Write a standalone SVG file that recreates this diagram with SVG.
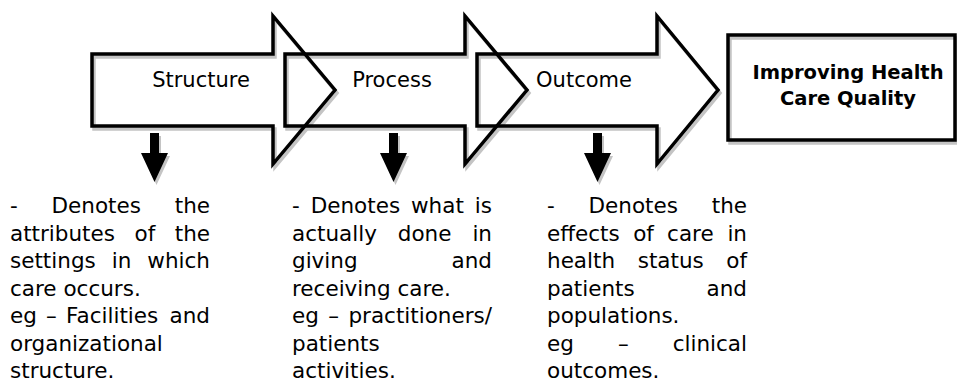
<svg xmlns="http://www.w3.org/2000/svg" width="957" height="382" viewBox="0 0 957 382">
<defs>
<style>
.sh{fill:none;stroke:#c4c4c4;stroke-width:3.5;stroke-linejoin:miter}
.ol{fill:none;stroke:#000;stroke-width:3.5;stroke-linejoin:miter}
.dsh{fill:#c4c4c4}
.da{fill:#000}
.lbl{font-family:"DejaVu Sans",Verdana,sans-serif;font-size:21px;fill:#000;text-anchor:middle}
.bt{font-family:"DejaVu Sans",Verdana,sans-serif;font-size:19.5px;font-weight:bold;fill:#000;text-anchor:middle}
.tx{font-family:"DejaVu Sans",Verdana,sans-serif;font-size:21.5px;fill:#000}
.e{text-anchor:end}
</style>
</defs>
<rect width="957" height="382" fill="#fff"/>
<g id="shadows" transform="translate(2,3)">
<path class="sh" d="M92,54 H273 V16 L335,90 L273,164 V126 H92 Z"/>
<path class="sh" d="M285,54 H465 V16 L527,90 L465,164 V126 H285 Z"/>
<path class="sh" d="M477,54 H657 V16 L718,90 L657,164 V126 H477 Z"/>
<rect class="sh" x="728" y="35" width="227" height="105"/>
<path class="dsh" d="M150,133 H159 V153 H168 L154.5,182 L141,153 H150 Z"/>
<path class="dsh" d="M389,133 H398 V153 H407 L393.5,182 L380,153 H389 Z"/>
<path class="dsh" d="M593,133 H602 V153 H611 L597.5,182 L584,153 H593 Z"/>
</g>
<g id="structure">
<path class="ol" d="M92,54 H273 V16 L335,90 L273,164 V126 H92 Z"/>
<text class="lbl" x="201" y="87">Structure</text>
</g>
<g id="process">
<path class="ol" d="M285,54 H465 V16 L527,90 L465,164 V126 H285 Z"/>
<text class="lbl" x="392" y="87">Process</text>
</g>
<g id="outcome">
<path class="ol" d="M477,54 H657 V16 L718,90 L657,164 V126 H477 Z"/>
<text class="lbl" x="584" y="87">Outcome</text>
</g>
<g id="quality">
<rect class="ol" x="728" y="35" width="227" height="105"/>
<text class="bt" x="848" y="79">Improving Health</text>
<text class="bt" x="848" y="105">Care Quality</text>
</g>
<g id="connectors">
<path class="da" d="M150,133 H159 V153 H168 L154.5,182 L141,153 H150 Z"/>
<path class="da" d="M389,133 H398 V153 H407 L393.5,182 L380,153 H389 Z"/>
<path class="da" d="M593,133 H602 V153 H611 L597.5,182 L584,153 H593 Z"/>
</g>
<g id="structure-desc" class="tx">
<text y="213"><tspan x="10">-</tspan><tspan x="51.5">Denotes</tspan></text>
<text class="tx e" x="210" y="213">the</text>
<text y="240.5"><tspan x="10">attributes</tspan><tspan x="134.5">of</tspan></text>
<text class="tx e" x="210" y="240.5">the</text>
<text y="268"><tspan x="10">settings</tspan><tspan x="111.7">in</tspan></text>
<text class="tx e" x="210" y="268">which</text>
<text x="10" y="295.5">care occurs.</text>
<text y="323"><tspan x="10">eg</tspan><tspan x="46.1">–</tspan><tspan x="66.1">Facilities</tspan></text>
<text class="tx e" x="210" y="323">and</text>
<text x="10" y="350.5">organizational</text>
<text x="10" y="378">structure.</text>
</g>
<g id="process-desc" class="tx">
<text y="213"><tspan x="292">-</tspan><tspan x="310.7">Denotes</tspan><tspan x="411">what</tspan></text>
<text class="tx e" x="492" y="213">is</text>
<text y="240.5"><tspan x="292">actually</tspan><tspan x="397.8">done</tspan></text>
<text class="tx e" x="492" y="240.5">in</text>
<text x="292" y="268">giving</text>
<text class="tx e" x="492" y="268">and</text>
<text x="292" y="295.5">receiving care.</text>
<text y="323"><tspan x="292">eg</tspan><tspan x="328.3">–</tspan></text>
<text class="tx e" x="492" y="323">practitioners/</text>
<text x="292" y="350.5">patients</text>
<text x="292" y="378">activities.</text>
</g>
<g id="outcome-desc" class="tx">
<text y="213"><tspan x="547">-</tspan><tspan x="588.5">Denotes</tspan></text>
<text class="tx e" x="747" y="213">the</text>
<text y="240.5"><tspan x="547">effects</tspan><tspan x="633.2">of</tspan><tspan x="667.1">care</tspan></text>
<text class="tx e" x="747" y="240.5">in</text>
<text y="268"><tspan x="547">health</tspan><tspan x="637.7">status</tspan></text>
<text class="tx e" x="747" y="268">of</text>
<text x="547" y="295.5">patients</text>
<text class="tx e" x="747" y="295.5">and</text>
<text x="547" y="323">populations.</text>
<text y="350.5"><tspan x="547">eg</tspan><tspan x="617.9">–</tspan></text>
<text class="tx e" x="747" y="350.5">clinical</text>
<text x="547" y="378">outcomes.</text>
</g>
</svg>
